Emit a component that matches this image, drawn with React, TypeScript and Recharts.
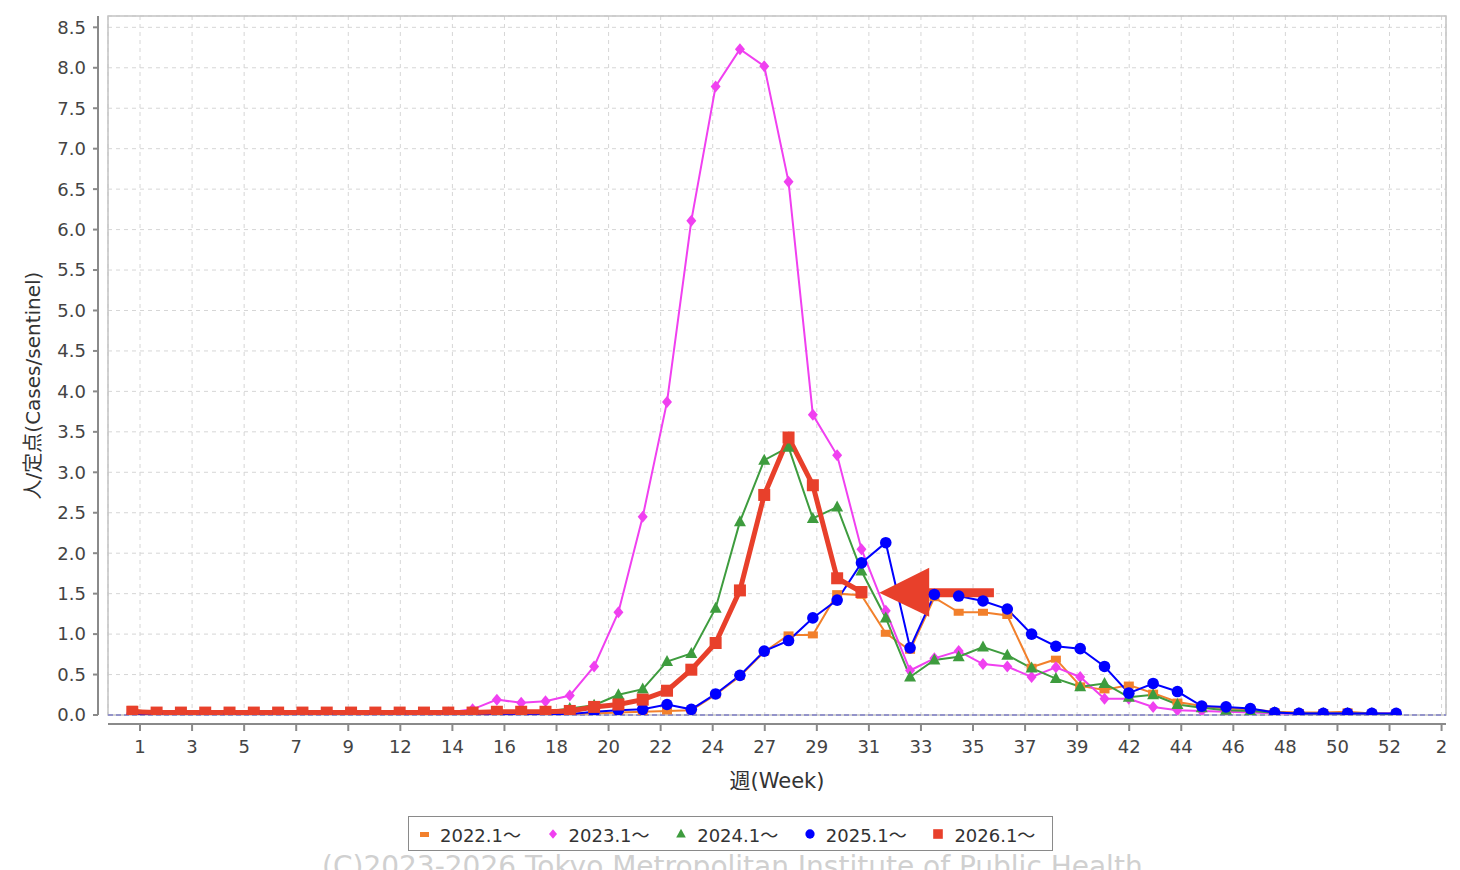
import React from 'react';
import {
  LineChart, Line, XAxis, YAxis, CartesianGrid, ReferenceLine, ReferenceArea, ReferenceDot, Legend, Label,
} from 'recharts';

// week number of each plotted point
const WEEKS = [
  1, 2, 3, 4, 5, 6, 7, 8, 9, 10, 11, 12, 13, 14, 15, 16, 17, 18, 19, 20,
  21, 22, 23, 24, 25, 26, 27, 28, 29, 30, 31, 32, 33, 34, 35, 36, 37, 38, 39, 40,
  41, 42, 43, 44, 45, 46, 47, 48, 49, 50, 51, 52, 53,
];

const Y2022 = [
  0.07, 0.02, 0.02, 0.01, 0.01, 0.01, 0.01, 0.01, 0.01, 0.01, 0.01, 0.01, 0.01, 0.01, 0.01, 0.02, 0.02, 0.01, 0.02, 0.02,
  0.03, 0.04, 0.05, 0.06, 0.25, 0.48, 0.78, 0.99, 0.99, 1.5, 1.48, 1.01, 0.8, 1.45, 1.27, 1.27, 1.23, 0.59, 0.69, 0.36,
  0.31, 0.37, 0.27, 0.16, 0.11, 0.08, 0.07, 0.04, 0.03, 0.03, 0.04, 0.02, 0.02,
];

const Y2023 = [
  0.01, 0.01, 0.01, 0.01, 0.01, 0.01, 0.01, 0.01, 0.01, 0.01, 0.01, 0.01, 0.02, 0.03, 0.07, 0.19, 0.15, 0.17, 0.24, 0.6,
  1.27, 2.45, 3.87, 6.11, 7.77, 8.23, 8.02, 6.59, 3.71, 3.21, 2.05, 1.29, 0.55, 0.7, 0.79, 0.63, 0.6, 0.47, 0.59, 0.47,
  0.2, 0.2, 0.1, 0.06, 0.05, 0.04, 0.03, 0.02, 0.02, 0.02, 0.02, 0.02, 0.02,
];

const Y2024 = [
  0.01, 0.01, 0.01, 0.01, 0.01, 0.01, 0.01, 0.01, 0.01, 0.01, 0.01, 0.01, 0.01, 0.01, 0.02, 0.02, 0.02, 0.04, 0.08, 0.12,
  0.25, 0.32, 0.66, 0.76, 1.32, 2.39, 3.15, 3.31, 2.43, 2.57, 1.78, 1.2, 0.47, 0.68, 0.72, 0.84, 0.74, 0.58, 0.45, 0.35,
  0.39, 0.22, 0.25, 0.13, 0.09, 0.06, 0.05, 0.03, 0.02, 0.02, 0.02, 0.02, 0.01,
];

const Y2025 = [
  0.01, 0.01, 0.01, 0.01, 0.01, 0.01, 0.01, 0.01, 0.01, 0.01, 0.01, 0.01, 0.01, 0.01, 0.01, 0.01, 0.01, 0.01, 0.01, 0.04,
  0.06, 0.07, 0.13, 0.07, 0.26, 0.49, 0.79, 0.92, 1.2, 1.42, 1.88, 2.13, 0.83, 1.49, 1.47, 1.41, 1.31, 1.0, 0.85, 0.82,
  0.6, 0.27, 0.39, 0.29, 0.11, 0.1, 0.08, 0.03, 0.02, 0.02, 0.02, 0.02, 0.02,
];

const Y2026 = [
  0.04, 0.03, 0.03, 0.03, 0.03, 0.03, 0.03, 0.03, 0.03, 0.03, 0.03, 0.03, 0.03, 0.03, 0.03, 0.04, 0.04, 0.04, 0.05, 0.1,
  0.13, 0.19, 0.3, 0.56, 0.89, 1.54, 2.72, 3.43, 2.84, 1.69, 1.52,
];

// labels of the week axis (every other category)
const WEEK_TICK_LABELS = [
  '1', '3', '5', '7', '9', '12', '14', '16', '18', '20', '22', '24', '27',
  '29', '31', '33', '35', '37', '39', '42', '44', '46', '48', '50', '52', '2',
];

const Y_TICKS = [0, 0.5, 1, 1.5, 2, 2.5, 3, 3.5, 4, 4.5, 5, 5.5, 6, 6.5, 7, 7.5, 8, 8.5];

// annotation arrow pointing at the latest week of 2026
const ARROW_TIP = { x: 31.73, y: 1.51 };
const ARROW_TAIL_X = 36.45;

const DATA_X_DOMAIN: [number, number] = [0, 55.05];
const LABEL_X_DOMAIN: [number, number] = [-0.23, 51.17];
const Y_DOMAIN: [number, number] = [0, 8.64];

const LABEL_TICKS = WEEK_TICK_LABELS.map((_, i) => 1 + i * 2);

type Kind = 'dash' | 'diamond' | 'triangle' | 'circle' | 'square';

const SERIES: { key: string; name: string; color: string; kind: Kind; width: number }[] = [
  { key: 'y2022', name: '2022.1～', color: '#f2802c', kind: 'dash', width: 2 },
  { key: 'y2023', name: '2023.1～', color: '#f040f0', kind: 'diamond', width: 2 },
  { key: 'y2024', name: '2024.1～', color: '#3e9c3e', kind: 'triangle', width: 2 },
  { key: 'y2025', name: '2025.1～', color: '#0000ff', kind: 'circle', width: 2 },
  { key: 'y2026', name: '2026.1～', color: '#e8402b', kind: 'square', width: 5 },
];

const rows = WEEKS.map((week, i) => ({
  week,
  y2022: Y2022[i] ?? null,
  y2023: Y2023[i] ?? null,
  y2024: Y2024[i] ?? null,
  y2025: Y2025[i] ?? null,
  y2026: Y2026[i] ?? null,
}));

const FONT = "'DejaVu Sans', 'Noto Sans CJK JP', sans-serif";
const AXIS_GRAY = '#8a8a8a';

function Marker({ kind, cx, cy, color, scale = 1 }: { kind: Kind; cx: number; cy: number; color: string; scale?: number }) {
  const s = scale;
  switch (kind) {
    case 'dash':
      return <rect x={cx - 5 * s} y={cy - 3.5 * s} width={10 * s} height={7 * s} fill={color} />;
    case 'diamond':
      return (
        <polygon
          points={`${cx},${cy - 6 * s} ${cx + 5 * s},${cy} ${cx},${cy + 6 * s} ${cx - 5 * s},${cy}`}
          fill={color}
        />
      );
    case 'triangle':
      return (
        <polygon
          points={`${cx},${cy - 6.5 * s} ${cx + 6 * s},${cy + 4.5 * s} ${cx - 6 * s},${cy + 4.5 * s}`}
          fill={color}
        />
      );
    case 'circle':
      return <circle cx={cx} cy={cy} r={5.8 * s} fill={color} />;
    default:
      return <rect x={cx - 6 * s} y={cy - 6 * s} width={12 * s} height={12 * s} fill={color} />;
  }
}

const makeDot = (kind: Kind, color: string) => (props: any) => {
  const { cx, cy, index } = props;
  if (cx == null || cy == null || props.value == null) return <g key={`d-${index}`} />;
  return (
    <g key={`d-${index}`}>
      <Marker kind={kind} cx={cx} cy={cy} color={color} />
    </g>
  );
};

const ArrowHead = (props: any) => {
  const { cx, cy } = props;
  if (cx == null || cy == null) return <g />;
  return <polygon points={`${cx},${cy} ${cx + 50},${cy - 25} ${cx + 50},${cy + 24}`} fill="#e8402b" />;
};

function LegendBox() {
  return (
    <div
      style={{
        width: 645,
        height: 35,
        boxSizing: 'border-box',
        border: `1.5px solid ${AXIS_GRAY}`,
        background: '#fff',
        display: 'flex',
        alignItems: 'center',
        fontFamily: FONT,
        fontSize: 18,
        color: '#333',
      }}
    >
      {SERIES.map((s) => (
        <div key={s.key} style={{ width: 129, display: 'flex', alignItems: 'center' }}>
          <svg width={31} height={20} style={{ flex: '0 0 31px' }}>
            {s.kind === 'dash' ? (
              <rect x={11} y={8} width={9} height={5} fill={s.color} />
            ) : (
              <Marker kind={s.kind} cx={15} cy={10} color={s.color} scale={0.8} />
            )}
          </svg>
          <span style={{ whiteSpace: 'nowrap' }}>{s.name}</span>
        </div>
      ))}
    </div>
  );
}

const YTitle = (props: any) => {
  const vb = props.viewBox || { x: 0, y: 16, width: 108, height: 699 };
  const x = vb.x + 40;
  const y = vb.y + vb.height / 2 + 20;
  return (
    <text
      x={x}
      y={y}
      transform={`rotate(-90, ${x}, ${y})`}
      textAnchor="middle"
      fontFamily={FONT}
      fontSize={20}
      fill="#333"
    >
      人/定点(Cases/sentinel)
    </text>
  );
};

const XTitle = (props: any) => {
  const vb = props.viewBox || { x: 108, y: 715, width: 1338, height: 155 };
  return (
    <text x={vb.x + vb.width / 2} y={vb.y + 73} textAnchor="middle" fontFamily={FONT} fontSize={21} fill="#333">
      週(Week)
    </text>
  );
};

export default function App() {
  return (
    <div
      style={{
        position: 'absolute',
        left: 0,
        top: 0,
        width: 1460,
        height: 870,
        overflow: 'hidden',
        background: '#fff',
      }}
    >
      <LineChart width={1460} height={870} data={rows} margin={{ top: 16, right: 14, bottom: 0, left: 0 }}>
        <CartesianGrid xAxisId="lbl" stroke="#d6d6d6" strokeDasharray="4 4" />
        <XAxis
          xAxisId="lbl"
          dataKey="week"
          type="number"
          domain={LABEL_X_DOMAIN}
          allowDataOverflow
          ticks={LABEL_TICKS}
          interval={0}
          height={155}
          tickSize={7}
          tickMargin={18}
          tickFormatter={(v: number) => WEEK_TICK_LABELS[Math.round((v - 1) / 2)] ?? ''}
          tick={{ fill: '#444', fontSize: 18, fontFamily: FONT }}
          axisLine={{ stroke: AXIS_GRAY, strokeWidth: 2, transform: 'translate(0,9)' }}
          tickLine={{ stroke: AXIS_GRAY, strokeWidth: 2, transform: 'translate(0,9)' }}
        >
          <Label content={<XTitle />} />
        </XAxis>
        <XAxis xAxisId="data" dataKey="week" type="number" domain={DATA_X_DOMAIN} allowDataOverflow hide height={0} />
        <YAxis
          type="number"
          domain={Y_DOMAIN}
          allowDataOverflow
          ticks={Y_TICKS}
          interval={0}
          width={108}
          tickSize={5}
          tickMargin={17}
          tickFormatter={(v: number) => v.toFixed(1)}
          tick={{ fill: '#444', fontSize: 18, fontFamily: FONT }}
          axisLine={{ stroke: AXIS_GRAY, strokeWidth: 2, transform: 'translate(-10,0)' }}
          tickLine={{ stroke: AXIS_GRAY, strokeWidth: 2, transform: 'translate(-10,0)' }}
        >
          <Label content={<YTitle />} />
        </YAxis>
        <ReferenceArea
          xAxisId="data"
          x1={DATA_X_DOMAIN[0]}
          x2={DATA_X_DOMAIN[1]}
          y1={Y_DOMAIN[0]}
          y2={Y_DOMAIN[1]}
          fill="none"
          fillOpacity={0}
          stroke="#c4c4c4"
          strokeWidth={1.5}
          ifOverflow="visible"
        />
        <ReferenceLine xAxisId="data" y={0} stroke="#8080c8" strokeDasharray="5 3" strokeWidth={1.5} />
        {SERIES.map((s) => (
          <Line
            key={s.key}
            xAxisId="data"
            dataKey={s.key}
            name={s.name}
            type="linear"
            stroke={s.color}
            strokeWidth={s.width}
            dot={makeDot(s.kind, s.color)}
            activeDot={false}
            isAnimationActive={false}
          />
        ))}
        <ReferenceLine
          xAxisId="data"
          segment={[
            { x: ARROW_TIP.x + 1.9, y: ARROW_TIP.y },
            { x: ARROW_TAIL_X, y: ARROW_TIP.y },
          ]}
          stroke="#e8402b"
          strokeWidth={9}
          ifOverflow="visible"
        />
        <ReferenceDot xAxisId="data" x={ARROW_TIP.x} y={ARROW_TIP.y} r={1} shape={<ArrowHead />} ifOverflow="visible" />
        <Legend
          layout="horizontal"
          verticalAlign="middle"
          align="center"
          content={() => <LegendBox />}
          wrapperStyle={{ left: 408, top: 816, width: 645, height: 35 }}
        />
      </LineChart>
      <div
        style={{
          position: 'absolute',
          left: 322,
          width: 818,
          top: 850,
          textAlign: 'center',
          fontFamily: FONT,
          fontSize: 28,
          color: '#d0d0d0',
          whiteSpace: 'nowrap',
          lineHeight: '34px',
        }}
      >
        (C)2023-2026 Tokyo Metropolitan Institute of Public Health
      </div>
    </div>
  );
}
